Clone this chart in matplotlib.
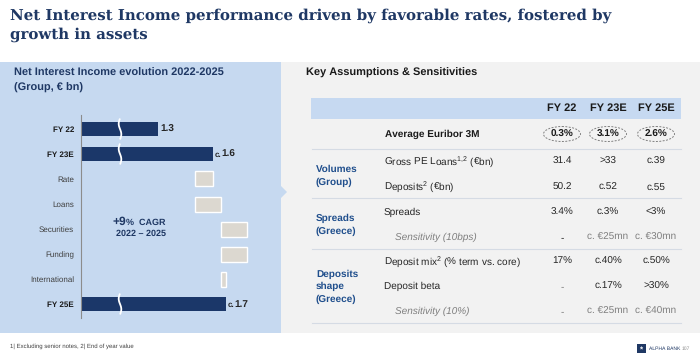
import matplotlib
matplotlib.use("Agg")
import matplotlib.pyplot as plt
import numpy as np
from matplotlib.patches import Rectangle, Ellipse, Polygon

plt.rcParams['font.family'] = ['Liberation Sans', 'DejaVu Sans']
plt.rcParams['mathtext.fontset'] = 'custom'
plt.rcParams['mathtext.rm'] = 'Liberation Sans'
plt.rcParams['mathtext.default'] = 'regular'
plt.rcParams['text.hinting'] = 'no_hinting'
plt.rcParams['text.hinting_factor'] = 1

# ---------------- data ----------------
title_lines = ["Net Interest Income performance driven by favorable rates, fostered by",
               "growth in assets"]
chart_title = ["Net Interest Income evolution 2022-2025", "(Group, € bn)"]
categories = ["FY 22", "FY 23E", "Rate", "Loans", "Securities", "Funding", "International", "FY 25E"]
total_names = ["FY 22", "FY 23E", "FY 25E"]
total_values = [1.3, 1.6, 1.67]
total_labels = [("", "1.3"), ("c.", "1.6"), ("c.", "1.7")]
driver_names = ["Rate", "Loans", "Securities", "Funding", "International"]
driver_deltas = [-0.10, 0.14, 0.14, -0.14, 0.03]
cagr_text = ("+9", "% CAGR", "2022 – 2025")

table_title = "Key Assumptions & Sensitivities"
table_cols = ["FY 22", "FY 23E", "FY 25E"]
euribor_label = "Average Euribor 3M"
euribor_values = ["0.3%", "3.1%", "2.6%"]
row_labels = ["Gross PE Loans$^{1{,}2}$ (€bn)", "Deposits$^{2}$ (€bn)",
              "Spreads", "Sensitivity (10bps)",
              "Deposit mix$^{2}$ (% term vs. core)", "Deposit beta", "Sensitivity (10%)"]
row_values = [["31.4", ">33", "c.39"],
              ["50.2", "c.52", "c.55"],
              ["3.4%", "c.3%", "<3%"],
              ["-", "c. €25mn", "c. €30mn"],
              ["17%", "c.40%", "c.50%"],
              ["-", "c.17%", ">30%"],
              ["-", "c. €25mn", "c. €40mn"]]
row_italic = [False, False, False, True, False, False, True]
groups = [["Volumes", "(Group)"], ["Spreads", "(Greece)"], ["Deposits", "shape", "(Greece)"]]
footnote = "1| Excluding senior notes, 2| End of year value"
page_label = ("ALPHA BANK", "107")

# ---------------- style ----------------
W, H = 700, 363
NAVY = '#1f3864'
BAR = '#1b3769'
PANEL_BLUE = '#c6d9f0'
PANEL_GREY = '#f2f2f2'
BOX_GREY = '#dcd8d0'
GROUP_BLUE = '#1f4e8c'
TXT = '#262626'
MUTED = '#7f7f7f'

fig = plt.figure(figsize=(7, 3.63), dpi=100)
fig.patch.set_facecolor('white')
bg = fig.add_axes([0, 0, 1, 1])
bg.set_xlim(0, W)
bg.set_ylim(H, 0)
bg.axis('off')

# panels
bg.add_patch(Rectangle((0, 62), 281, 271, fc=PANEL_BLUE, ec='none'))
bg.add_patch(Rectangle((281, 62), 419, 271, fc=PANEL_GREY, ec='none'))
bg.add_patch(Polygon([[281, 186], [287, 192], [281, 198]], fc=PANEL_BLUE, ec='none'))

# main title
for i, line in enumerate(title_lines):
    bg.text(10, 16 + 18.5 * i, line, family='DejaVu Serif', weight='bold', size=11.05,
            color=NAVY, va='center', ha='left')

# chart title
for i, line in enumerate(chart_title):
    bg.text(14, 73 + 14.5 * i, line, weight='bold', size=8.15, color=NAVY, va='center')

# ---------------- waterfall chart ----------------
ax = fig.add_axes([81 / W, (H - 318) / H, (270 - 81) / W, 203 / H])
ax.patch.set_alpha(0)
x0 = 0.8875
ax.set_xlim(x0, x0 + 189 / 185.7)
ax.set_ylim(7.56, -0.56)
pos = {c: i for i, c in enumerate(categories)}

tpos = [pos[n] for n in total_names]
ax.barh(tpos, total_values, left=0, height=0.56, color=BAR, zorder=2)

deltas = np.array(driver_deltas)
ends = total_values[1] + np.cumsum(deltas)
starts = np.concatenate([[total_values[1]], ends[:-1]])
dpos = [pos[n] for n in driver_names]
ax.barh(dpos, np.abs(deltas), left=np.minimum(starts, ends), height=0.6,
        color=BOX_GREY, edgecolor='white', linewidth=1.0, zorder=2)

# axis-break marks
brk = x0 + 39 / 185.7
tt = np.linspace(-0.42, 0.42, 40)
for p in tpos:
    ax.plot(brk + 0.007 * np.sin(tt * np.pi / 0.42), p + tt, color='white', lw=1.3,
            zorder=3, solid_capstyle='butt')

# value labels
for p, v, (pre, num) in zip(tpos, total_values, total_labels):
    if pre:
        ax.annotate(pre, (v, p), xytext=(0.8, -0.5), textcoords='offset points', ha='left',
                    va='center', size=5.8, weight='bold', color=TXT)
        ax.annotate(num, (v, p), xytext=(6.0, 0), textcoords='offset points', ha='left',
                    va='center', size=7.3, weight='bold', color=TXT)
    else:
        ax.annotate(num, (v, p), xytext=(2.2, 0), textcoords='offset points', ha='left',
                    va='center', size=7.3, weight='bold', color=TXT)

ax.set_yticks(range(len(categories)))
ax.set_yticklabels(categories)
for lab in ax.get_yticklabels():
    if lab.get_text() in total_names:
        lab.set_fontweight('bold')
        lab.set_color('#1a1a1a')
    else:
        lab.set_color('#404040')
    lab.set_fontsize(6.0)
ax.tick_params(axis='y', length=0, pad=5)
ax.set_xticks([])
for s in ['top', 'right', 'bottom']:
    ax.spines[s].set_visible(False)
ax.spines['left'].set_color('#8c8c8c')
ax.spines['left'].set_linewidth(0.8)

# CAGR text
bg.text(126, 222, cagr_text[0], ha='right', va='center', size=8.5, weight='bold', color=NAVY)
bg.text(126.5, 222.5, cagr_text[1].replace(' ', '  '), ha='left', va='center', size=6.6,
        weight='bold', color=NAVY)
bg.text(141, 233.5, cagr_text[2], ha='center', va='center', size=6.6, weight='bold', color=NAVY)

# ---------------- table ----------------
bg.text(306, 73, table_title, weight='bold', size=8.1, color='#1a1a1a', va='center')
bg.add_patch(Rectangle((311, 98), 370, 20.5, fc='#c6d9f1', ec='none'))
col_x = [562, 608, 656]
for x, c in zip(col_x, table_cols):
    bg.text(x, 108.5, c, ha='center', va='center', size=7.6, weight='bold', color='#1a1a1a')

bg.text(385, 134.5, euribor_label, ha='left', va='center', size=7.4, weight='bold', color='#1a1a1a')
for x, v in zip(col_x, euribor_values):
    bg.add_patch(Ellipse((x, 134), 37, 15, fc='none', ec='#808080', lw=0.7,
                         ls=(0, (2, 1.5))))
    bg.text(x, 134.5, v, ha='center', va='center', size=7.4, weight='bold', color='#1a1a1a')

for y in [149, 198, 249, 323]:
    bg.plot([312, 681], [y, y], color='#d5dbe4', lw=0.8)

row_y = [161.7, 187, 212.5, 237.3, 261.7, 286.7, 311.7]
for lab, y, vals, it in zip(row_labels, row_y, row_values, row_italic):
    if it:
        bg.text(395, y, lab, ha='left', va='center', size=7.3, style='italic', color=MUTED)
    else:
        bg.text(384, y, lab, ha='left', va='center', size=7.3, color=TXT)
    for j, (x, v) in enumerate(zip(col_x, vals)):
        col = MUTED if (it or v == '-') else TXT
        if v == '-' and lab == "Sensitivity (10bps)":
            col = TXT
        bg.text(x, y, v, ha='center', va='center', size=7.3, color=col)

group_y = [[169, 182], [218, 231], [274, 286.7, 299]]
for lines, ys in zip(groups, group_y):
    for line, y in zip(lines, ys):
        bg.text(316, y, line, ha='left', va='center', size=7.3, weight='bold', color=GROUP_BLUE)

# footnote + page label
bg.text(10, 346, footnote, ha='left', va='center', size=4, color='#404040')
bg.add_patch(Rectangle((637, 344), 9, 9, fc=NAVY, ec='none'))
bg.text(641.5, 349, '*', ha='center', va='center', size=6, color='white', weight='bold')
bg.text(649, 348.8, page_label[0], ha='left', va='center', size=3.6, color=NAVY)
bg.text(682, 348.8, page_label[1], ha='left', va='center', size=3.6, color='#8c8c8c')

fig.savefig('out.png', dpi=100, facecolor='white')
